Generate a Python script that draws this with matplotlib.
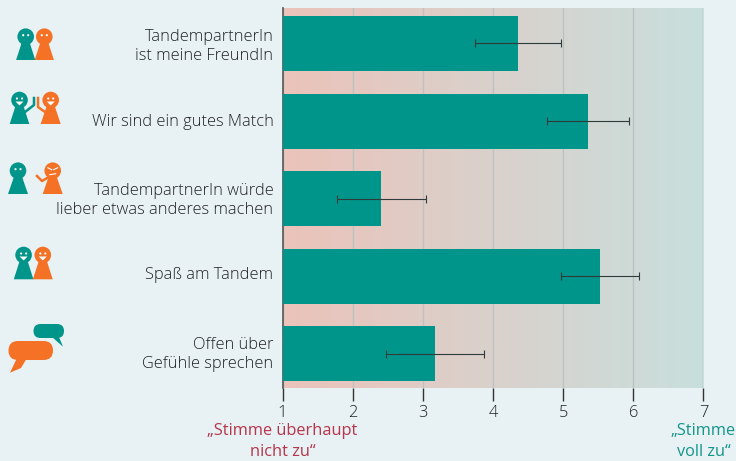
import matplotlib
matplotlib.use('Agg')
import matplotlib.pyplot as plt
from matplotlib.colors import LinearSegmentedColormap
from matplotlib.patches import Circle, Polygon, FancyBboxPatch
import numpy as np

plt.rcParams['font.family'] = ['Open Sans', 'DejaVu Sans']

labels = ['TandempartnerIn\nist meine FreundIn', 'Wir sind ein gutes Match',
          'TandempartnerIn würde\nlieber etwas anderes machen', 'Spaß am Tandem',
          'Offen über\nGefühle sprechen']
means = [4.355, 5.36, 2.41, 5.53, 3.175]
errors = [0.61, 0.585, 0.635, 0.556, 0.70]
ticks = [1, 2, 3, 4, 5, 6, 7]

BG = '#e8f1f3'
TEAL = '#00958a'
ORANGE = '#f47125'
TEXT = '#1f2224'
W, H = 736, 461

fig = plt.figure(figsize=(W / 100, H / 100), dpi=100, facecolor=BG)
ax = fig.add_axes([282.5 / W, 1 - 388 / H, (703.4 - 282.5) / W, 380 / H])
ax.set_facecolor(BG)

# background gradient from disagree to agree
cmap = LinearSegmentedColormap.from_list('agree', ['#ebc3ba', '#c8dfdd'])
ax.imshow(np.linspace(0, 1, 256).reshape(1, -1), cmap=cmap, aspect='auto',
          extent=(1, 7, 4.44, -0.457), zorder=0)

ypos = np.arange(len(labels))
ax.barh(ypos, np.array(means) - 1, left=1, height=0.71, color=TEAL, zorder=3)
ax.errorbar(means, ypos, xerr=errors, fmt='none', ecolor='#2f3a3a', elinewidth=0.8,
            capsize=2.6, capthick=0.8, zorder=4)

ax.set_xlim(1, 7)
ax.set_ylim(4.44, -0.457)
ax.set_xticks(ticks)
# the labels sit slightly above the bar centres
ax.set_yticks(ypos - np.array([0, 1, 2, 3, 3]) / 77.6)
ax.set_yticklabels(labels, fontsize=11.8, color=TEXT, linespacing=1.25, fontweight='light')
ax.tick_params(axis='y', length=0, pad=6.5)
ax.tick_params(axis='x', length=9.5, width=1, color='#333333', labelsize=11.85,
               labelcolor=TEXT, pad=2.5)
for lab in ax.get_xticklabels():
    lab.set_fontweight('light')
ax.grid(axis='x', color='#bcc2c1', linewidth=1, zorder=1)
ax.set_axisbelow(True)
for side in ['top', 'right', 'bottom']:
    ax.spines[side].set_visible(False)
ax.spines['left'].set_color('#555555')
ax.spines['left'].set_linewidth(1.2)
ax.spines['left'].set_bounds(4.44, -0.457)

# scale end captions
trans = ax.get_xaxis_transform()
ax.text(1, -0.093, '„Stimme überhaupt\nnicht zu“', transform=trans, ha='center', va='top',
        fontsize=11.8, color='#b8354d', linespacing=1.38, clip_on=False)
ax.text(7, -0.093, '„Stimme\nvoll zu“', transform=trans, ha='center', va='top',
        fontsize=11.8, color='#14968b', linespacing=1.38, clip_on=False)

# icon layer in pixel coordinates
ov = fig.add_axes([0, 0, 1, 1], facecolor='none')
ov.set_xlim(0, W)
ov.set_ylim(H, 0)
ov.axis('off')


def pawn(cx, top, base, half, color, face='plain'):
    ov.add_patch(Polygon([(cx - half, base), (cx + half, base), (cx + 4, top + 6), (cx - 4, top + 6)],
                         color=color, lw=0))
    ov.add_patch(Circle((cx, top), 8.3, color=color, lw=0))
    if face == 'grumpy':
        ov.plot([cx - 5, cx - 1], [top - 3, top - 1], color='white', lw=0.8)
        ov.plot([cx + 5, cx + 1], [top - 3, top - 1], color='white', lw=0.8)
        ov.plot([cx - 3, cx + 3], [top + 4, top + 3], color='white', lw=0.8)
    else:
        ov.add_patch(Circle((cx - 2.5, top - 1.5), 1.1, color='white', lw=0))
        ov.add_patch(Circle((cx + 2.5, top - 1.5), 1.1, color='white', lw=0))
    if face == 'happy':
        ov.add_patch(Polygon([(cx - 4, top + 1.5), (cx + 4, top + 1.5), (cx, top + 5.5)],
                             color='white', lw=0))


pawn(25.7, 36.7, 60, 9.6, TEAL)
pawn(44.3, 36.7, 60, 9.6, ORANGE)

pawn(19.5, 100, 124, 9.8, TEAL, 'happy')
pawn(50.7, 100, 124, 10, ORANGE, 'happy')
ov.plot([25, 34, 34], [112, 105, 98], color=TEAL, lw=1.8)
ov.plot([45, 38, 38], [112, 107, 98], color=ORANGE, lw=1.8)

pawn(18, 170.7, 194, 10, TEAL)
pawn(52.7, 170.7, 194, 10, ORANGE, 'grumpy')
ov.plot([49, 42, 37], [177, 181, 176], color=ORANGE, lw=1.8)

pawn(23.6, 255, 279.3, 9.8, TEAL, 'happy')
pawn(42.8, 255, 279.3, 9.9, ORANGE, 'happy')

# speech bubbles
ov.add_patch(FancyBboxPatch((33.5, 324), 30.5, 14, boxstyle='round,pad=0,rounding_size=7',
                            color=TEAL, lw=0))
ov.add_patch(Polygon([(52, 337), (59, 337), (63, 346.7)], color=TEAL, lw=0))
ov.add_patch(FancyBboxPatch((8.5, 341), 44.5, 19, boxstyle='round,pad=0,rounding_size=9.5',
                            color=ORANGE, lw=0))
ov.add_patch(Polygon([(17, 358), (27, 358), (21, 368), (10, 372.7)], color=ORANGE, lw=0))

fig.savefig('out.png', dpi=100, facecolor=BG)
